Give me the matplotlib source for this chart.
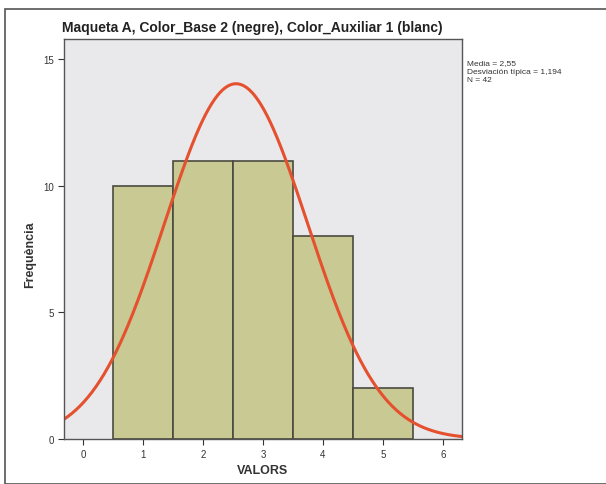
import numpy as np
import matplotlib
matplotlib.use("Agg")
import matplotlib.pyplot as plt
from matplotlib.patches import Rectangle

plt.rcParams["font.family"] = ["Liberation Sans", "DejaVu Sans"]

# histogram data (bins of width 1 centred on integer values)
bin_centers = [1, 2, 3, 4, 5]
counts = [10, 11, 11, 8, 2]
mean = 2.55
std_dev = 1.194
n_obs = 42
xticks = [0, 1, 2, 3, 4, 5, 6]
yticks = [0, 5, 10, 15]

fig = plt.figure(figsize=(6.06, 4.85), dpi=100)
fig.patches.append(Rectangle((5 / 606, 0.0), 1.0, 1 - 10 / 485, transform=fig.transFigure,
                             fill=False, edgecolor="#555555", linewidth=1.2))

ax = fig.add_axes([64 / 606, 1 - 440 / 485, 398 / 606, 400 / 485])
ax.set_facecolor("#e9e9ec")

ax.bar(bin_centers, counts, width=1.0, color="#c9c993", edgecolor="#4a4a40", linewidth=1.2)

# fitted normal curve scaled to counts
xs = np.linspace(-0.32, 6.32, 400)
ys = n_obs * 1.0 / (std_dev * np.sqrt(2 * np.pi)) * np.exp(-0.5 * ((xs - mean) / std_dev) ** 2)
ax.plot(xs, ys, color="#e5502f", linewidth=2.2)

ax.set_xlim(-0.32, 6.32)
ax.set_ylim(0, 15.8)
ax.set_xticks(xticks)
ax.set_yticks(yticks)
ax.tick_params(labelsize=7, colors="#333333", length=4)
for sp in ax.spines.values():
    sp.set_color("#555555")
    sp.set_linewidth(1.0)

fig.text(62 / 606, 1 - 28 / 485, "Maqueta A, Color_Base 2 (negre), Color_Auxiliar 1 (blanc)",
         fontsize=10, fontweight="bold", va="center", ha="left", color="#222222")
fig.text(30 / 606, 1 - 255 / 485, "Frequència", rotation=90, fontsize=9, fontweight="bold",
         va="center", ha="center", color="#333333")
fig.text(263 / 606, 1 - 471 / 485, "VALORS", fontsize=9, fontweight="bold",
         va="center", ha="center", color="#333333")
fig.text(467 / 606, 1 - 60 / 485,
         "Media = 2,55\nDesviación típica = 1,194\nN = 42",
         fontsize=6, va="top", ha="left", color="#333333", linespacing=1.35)

fig.savefig("out.png", dpi=100)
